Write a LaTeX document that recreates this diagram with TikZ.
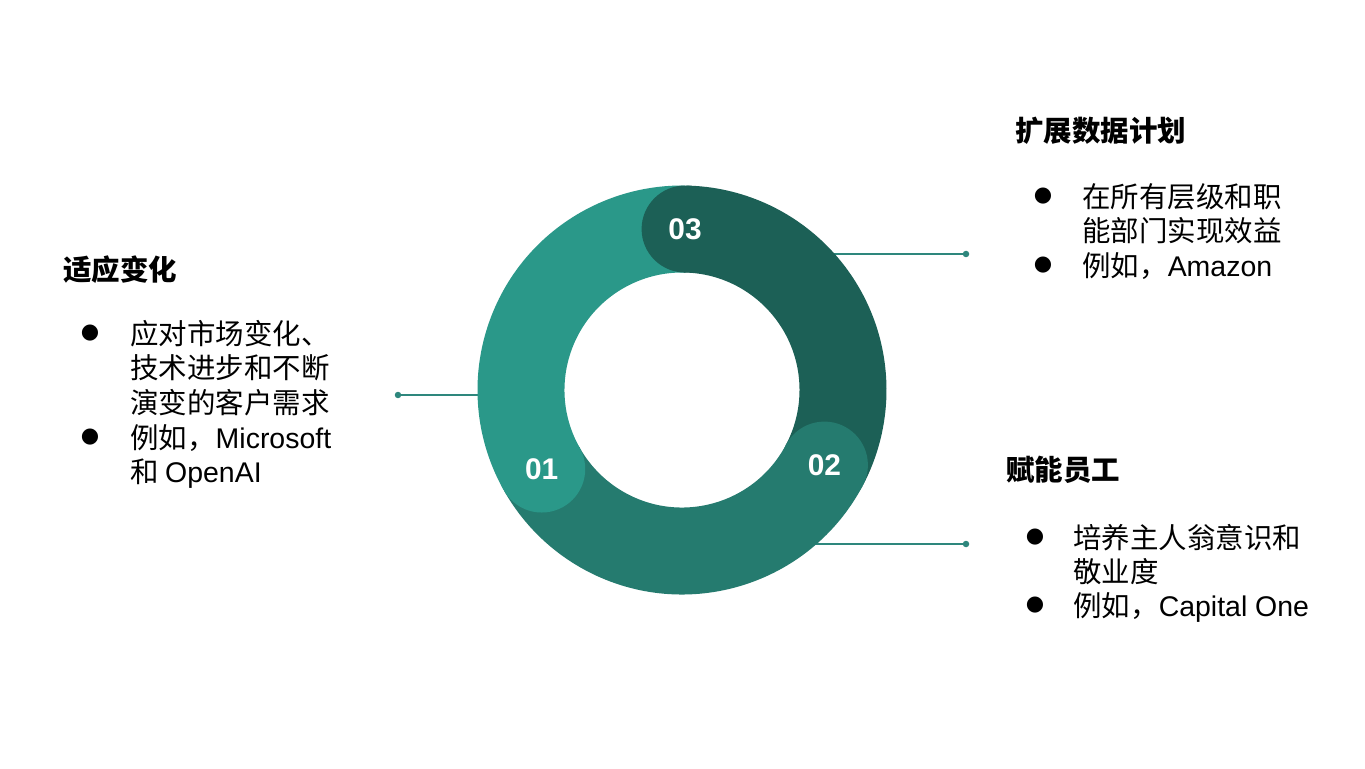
\documentclass[tikz,border=0pt]{standalone}
\usepackage{fontspec}
\setmainfont{Liberation Sans}
\newfontfamily\cjk{Noto Sans CJK SC}
\newfontfamily\symfont{DejaVu Sans}
\usetikzlibrary{calc}
\definecolor{light}{RGB}{42, 152, 137}
\definecolor{mid}{RGB}{37, 123, 111}
\definecolor{dark}{RGB}{28, 96, 86}
\definecolor{wirecol}{RGB}{46, 135, 125}

\tikzset{
  segment/.style={line width=1.74cm},
  cap/.style={circle, fill=#1, minimum size=1.74cm, inner sep=0pt, text=white,
    font=\bfseries\fontsize{17}{17}\selectfont},
  dot/.style={circle, fill=wirecol, minimum size=0.13cm, inner sep=0pt},
  link/.style={wirecol, line width=0.7pt},
  head/.style={anchor=west, inner sep=0pt, font=\cjk\bfseries\fontsize{16.2}{19.6}\selectfont},
  item/.style={anchor=north west, inner sep=0pt, align=left, font=\cjk\fontsize{16.2}{19.6}\selectfont},
  bullet/.style={inner sep=0pt, font=\symfont\fontsize{12}{12}\selectfont}
}

\begin{document}
\begin{tikzpicture}[x=0.02cm, y=0.02cm]
  \useasboundingbox[fill=white] (0, 0) rectangle (1365, 768);
  \coordinate (C) at (682, 378);

  % connectors, ends hidden under the ring
  \node[dot] (dl) at (398, 373) {};
  \node[dot] (dtr) at (966, 514) {};
  \node[dot] (dbr) at (966, 224) {};
  \coordinate (el) at ($(C)+(181.4:190)$);
  \coordinate (etr) at ($(C)+(41.7:190)$);
  \coordinate (ebr) at ($(C)+(-48.8:190)$);
  \draw[link] (dl.center) -- (dl.center -| el);
  \draw[link] (dtr.center) -- (dtr.center -| etr);
  \draw[link] (dbr.center) -- (dbr.center -| ebr);

  % ring
  \draw[segment, light] (C) ++(209.4:161) arc[start angle=209.4, end angle=88.9, radius=161];
  \draw[segment, dark] (C) ++(88.9:161) arc[start angle=88.9, end angle=-27.8, radius=161];
  \draw[segment, mid] (C) ++(-27.8:161) arc[start angle=-27.8, end angle=-150.6, radius=161];

  \node[cap=light] (c01) at ($(C)+(209.4:161)$) {01};
  \node[cap=mid] (c02) at ($(C)+(-27.8:161)$) {02};
  \node[cap=dark] (c03) at ($(C)+(88.9:161)$) {03};

  % left block
  \node[head] (h01) at (63, 498) {适应变化};
  \node[bullet] (b011) at (90, 435) {●};
  \node[item] (t011) at (130, 448) {应对市场变化、\\技术进步和不断\\演变的客户需求};
  \node[bullet] (b012) at (90, 331) {●};
  \node[item] (t012) at (130, 344) {例如，{\rmfamily Microsoft}\\和 {\rmfamily OpenAI}};

  % top right block
  \node[head] (h03) at (1015, 637) {扩展数据计划};
  \node[bullet] (b031) at (1043, 572) {●};
  \node[item] (t031) at (1082, 585) {在所有层级和职\\能部门实现效益};
  \node[bullet] (b032) at (1043, 503) {●};
  \node[item] (t032) at (1082, 516) {例如，{\rmfamily Amazon}};

  % bottom right block
  \node[head] (h02) at (1006, 298) {赋能员工};
  \node[bullet] (b021) at (1035, 231) {●};
  \node[item] (t021) at (1073, 244) {培养主人翁意识和\\敬业度};
  \node[bullet] (b022) at (1035, 163) {●};
  \node[item] (t022) at (1073, 176) {例如，{\rmfamily Capital One}};
\end{tikzpicture}
\end{document}
